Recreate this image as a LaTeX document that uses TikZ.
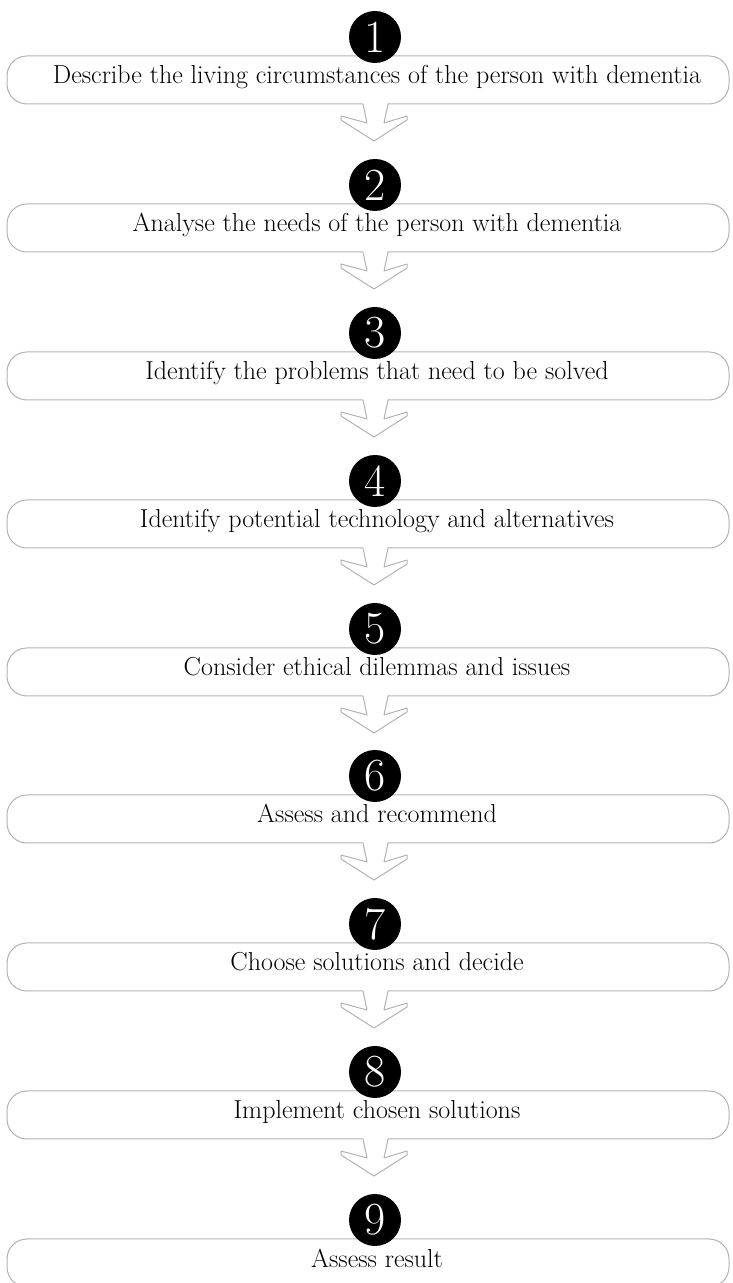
\documentclass[tikz,border=0pt]{standalone}
\usepackage{tikz}

\begin{document}
\begin{tikzpicture}[x=1pt, y=1pt,
        rahmen/.style={draw=black!30, line width=1pt, line join=round},
        nummer/.style={circle, fill=black, text=white, minimum size=52pt, inner sep=0pt, font=\fontsize{46}{46}\selectfont},
        schritt/.style={anchor=base, inner sep=0pt, font=\fontsize{26}{30}\selectfont}]
        % Umgebung
        \useasboundingbox (0,0) rectangle (732,1283);
        
        % Schritt 1
        \draw[rahmen] (363,1179) [rounded corners=20pt] -- ++(-356,0) -- ++(0,48) -- ++(722,0) -- ++(0,-48) [sharp corners] -- ++(-341,0) -- ++(-4,-19) -- ++(23,7) -- ++(0,-4) -- ++(-33,-21) -- ++(-33,21) -- ++(0,4) -- ++(26,-7) -- ++(-4,19);
        \node[nummer] (n1) at (375,1246) {1};
        \node[schritt] (s1) at (377,1199) {Describe the living circumstances of the person with dementia};
        
        % Schritt 2
        \draw[rahmen] (363,1031) [rounded corners=20pt] -- ++(-356,0) -- ++(0,48) -- ++(722,0) -- ++(0,-48) [sharp corners] -- ++(-341,0) -- ++(-4,-19) -- ++(23,7) -- ++(0,-4) -- ++(-33,-21) -- ++(-33,21) -- ++(0,4) -- ++(26,-7) -- ++(-4,19);
        \node[nummer] (n2) at (375,1098) {2};
        \node[schritt] (s2) at (377,1051) {Analyse the needs of the person with dementia};
        
        % Schritt 3
        \draw[rahmen] (363,883) [rounded corners=20pt] -- ++(-356,0) -- ++(0,48) -- ++(722,0) -- ++(0,-48) [sharp corners] -- ++(-341,0) -- ++(-4,-19) -- ++(23,7) -- ++(0,-4) -- ++(-33,-21) -- ++(-33,21) -- ++(0,4) -- ++(26,-7) -- ++(-4,19);
        \node[nummer] (n3) at (375,950) {3};
        \node[schritt] (s3) at (377,903) {Identify the problems that need to be solved};
        
        % Schritt 4
        \draw[rahmen] (363,735) [rounded corners=20pt] -- ++(-356,0) -- ++(0,48) -- ++(722,0) -- ++(0,-48) [sharp corners] -- ++(-341,0) -- ++(-4,-19) -- ++(23,7) -- ++(0,-4) -- ++(-33,-21) -- ++(-33,21) -- ++(0,4) -- ++(26,-7) -- ++(-4,19);
        \node[nummer] (n4) at (375,802) {4};
        \node[schritt] (s4) at (377,755) {Identify potential technology and alternatives};
        
        % Schritt 5
        \draw[rahmen] (363,587) [rounded corners=20pt] -- ++(-356,0) -- ++(0,48) -- ++(722,0) -- ++(0,-48) [sharp corners] -- ++(-341,0) -- ++(-4,-19) -- ++(23,7) -- ++(0,-4) -- ++(-33,-21) -- ++(-33,21) -- ++(0,4) -- ++(26,-7) -- ++(-4,19);
        \node[nummer] (n5) at (375,654) {5};
        \node[schritt] (s5) at (377,607) {Consider ethical dilemmas and issues};
        
        % Schritt 6
        \draw[rahmen] (363,440) [rounded corners=20pt] -- ++(-356,0) -- ++(0,48) -- ++(722,0) -- ++(0,-48) [sharp corners] -- ++(-341,0) -- ++(-4,-19) -- ++(23,7) -- ++(0,-4) -- ++(-33,-21) -- ++(-33,21) -- ++(0,4) -- ++(26,-7) -- ++(-4,19);
        \node[nummer] (n6) at (375,507) {6};
        \node[schritt] (s6) at (377,460) {Assess and recommend};
        
        % Schritt 7
        \draw[rahmen] (363,292) [rounded corners=20pt] -- ++(-356,0) -- ++(0,48) -- ++(722,0) -- ++(0,-48) [sharp corners] -- ++(-341,0) -- ++(-4,-19) -- ++(23,7) -- ++(0,-4) -- ++(-33,-21) -- ++(-33,21) -- ++(0,4) -- ++(26,-7) -- ++(-4,19);
        \node[nummer] (n7) at (375,359) {7};
        \node[schritt] (s7) at (377,312) {Choose solutions and decide};
        
        % Schritt 8
        \draw[rahmen] (363,144) [rounded corners=20pt] -- ++(-356,0) -- ++(0,48) -- ++(722,0) -- ++(0,-48) [sharp corners] -- ++(-341,0) -- ++(-4,-19) -- ++(23,7) -- ++(0,-4) -- ++(-33,-21) -- ++(-33,21) -- ++(0,4) -- ++(26,-7) -- ++(-4,19);
        \node[nummer] (n8) at (375,211) {8};
        \node[schritt] (s8) at (377,164) {Implement chosen solutions};
        
        % Schritt 9
        \draw[rahmen, rounded corners=20pt] (7,-4) rectangle (729,44);
        \node[nummer] (n9) at (375,63) {9};
        \node[schritt] (s9) at (377,16) {Assess result};
        
    \end{tikzpicture}
\end{document}
